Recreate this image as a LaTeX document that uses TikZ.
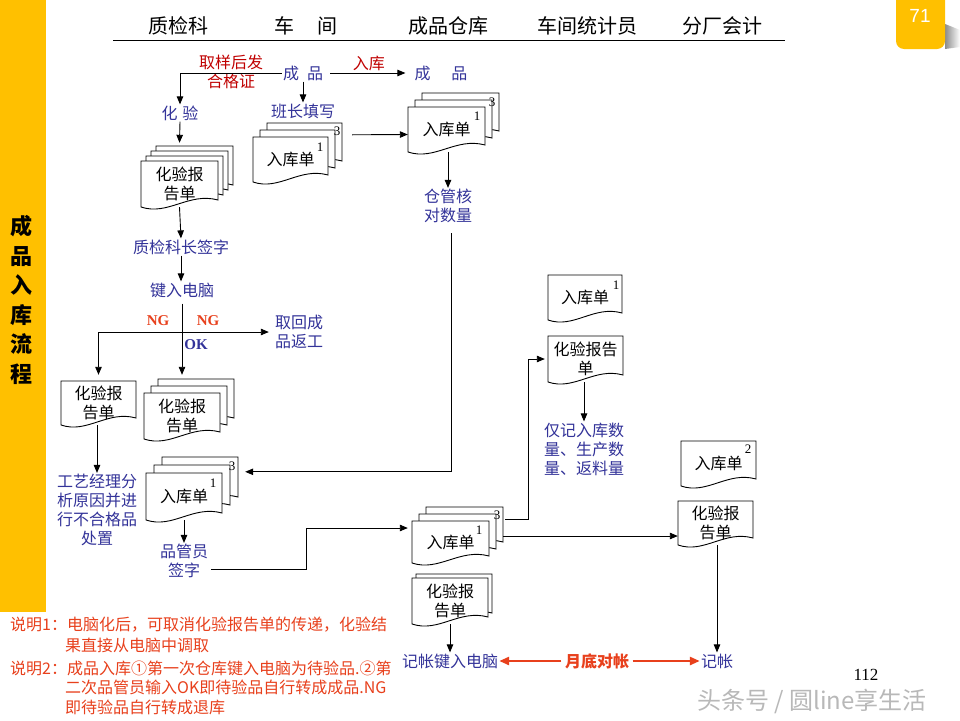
\documentclass[tikz,border=0pt]{standalone}
\usepackage{fontspec}
\usepackage{tikz}
\usetikzlibrary{arrows.meta, calc, positioning}

\newfontfamily\cjk{Noto Sans CJK SC}
\newfontfamily\numfont{Liberation Serif}
\newfontfamily\tabfont{Liberation Sans}

\definecolor{barY}{HTML}{FFC000}
\definecolor{flowblue}{HTML}{333399}
\definecolor{darkred}{HTML}{C00000}
\definecolor{orred}{HTML}{E8401C}

\tikzset{
  sheet/.style={draw, fill=white, line width=0.9pt},
  doctext/.style={font=\cjk\fontsize{16}{19}\selectfont, align=center, inner sep=0pt},
  lbl/.style={font=\cjk\fontsize{16}{19}\selectfont, text=flowblue, align=center, inner sep=1pt},
  redlbl/.style={font=\cjk\fontsize{16}{19}\selectfont, text=darkred, align=center, inner sep=1pt},
  head/.style={font=\cjk\fontsize{20}{24}\selectfont, inner sep=0pt},
  note/.style={font=\cjk\fontsize{16}{19}\selectfont, text=orred, anchor=west, inner sep=0pt},
  num/.style={font=\numfont\fontsize{13}{13}\selectfont, inner sep=0pt},
  flag/.style={font=\numfont\bfseries\fontsize{15}{15}\selectfont, inner sep=0pt},
  arr/.style={-{Triangle[length=8pt,width=6.5pt]}, line width=0.9pt},
  link/.style={line width=0.9pt},
  redarr/.style={-{Triangle[length=10pt,width=8pt]}, line width=2.6pt, draw=orred},
}

% one sheet: x, y (top left), w, h
\newcommand{\sheetat}[4]{%
  \draw[sheet] (#1,#2) -- ({#1+#3},#2) -- ({#1+#3},{#2+#4-7})
    .. controls ({#1+0.62*#3},{#2+#4-15}) and ({#1+0.35*#3},{#2+#4+9}) .. (#1,{#2+#4}) -- cycle;}

% document: name, x, y, w, h, text
\newcommand{\docnode}[6]{%
  \sheetat{#2}{#3}{#4}{#5}
  \node[doctext, minimum width=#4pt, minimum height=#5pt] (#1) at ({#2+0.5*#4},{#3+0.5*#5}) {#6};}

% stack of documents: name, x, y, w, h, sheets behind, offset, text
\newcommand{\docstack}[8]{%
  \foreach \k in {#6,...,1}{\sheetat{#2+\k*#7}{#3-\k*#7}{#4}{#5}}
  \docnode{#1}{#2}{#3}{#4}{#5}{#8}}

\begin{document}
\begin{tikzpicture}[x=1pt, y=-1pt]
\useasboundingbox (0,0) rectangle (960,720);
\fill[white] (0,0) rectangle (960,720);

% side bar and page tab
\fill[barY] (0,0) rectangle (46,612);
\node[font=\cjk\bfseries\fontsize{22}{29.5}\selectfont, align=center] (title) at (21,300) {成\\品\\入\\库\\流\\程};
\shade[left color=black!45, right color=white] (945,24) -- (960,30) -- (960,47) -- (945,49) -- cycle;
\fill[barY] (896,0) [rounded corners=8pt] -- (896,49) -- (945,49) [sharp corners] -- (945,0) -- cycle;
\node[font=\tabfont\fontsize{19}{19}\selectfont, text=white] (page) at (920,16) {71};

% column heads
\draw[line width=1pt] (113,40) -- (785,40);
\node[head] (hq) at (178,26) {质检科};
\node[head] (hw) at (306,26) {车\hspace{1.2em}间};
\node[head] (hs) at (448,26) {成品仓库};
\node[head] (hc) at (587,26) {车间统计员};
\node[head] (ha) at (722,26) {分厂会计};

% workshop and warehouse
\node[lbl] (prod1) at (303,73) {成\hspace{0.5em}品};
\node[lbl] (prod2) at (441,73) {成\hspace{1.3em}品};
\node[redlbl] (sample) at (231,72) {取样后发\\合格证};
\node[lbl] (test) at (180,113) {化\hspace{0.3em}验};
\node[lbl] (monitor) at (303,111) {班长填写};
\docstack{slipA}{253}{137}{75}{45}{2}{7}{入库单}
\node[num] (slipA1) at ($(slipA.north east)+(-8,10)$) {1};
\node[num] (slipA3) at ($(slipA.north east)+(9,-6)$) {3};
\docstack{slipB}{408}{107}{77}{45}{2}{7}{入库单}
\node[num] (slipB1) at ($(slipB.north east)+(-8,9)$) {1};
\node[num] (slipB3) at ($(slipB.north east)+(7,-5)$) {3};
\node[lbl] (count) at (448,206) {仓管核\\对数量};

% inspection
\docstack{rptA}{141}{161}{77}{46}{3}{5}{化验报\\告单}
\node[lbl] (sign) at (181,247) {质检科长签字};
\node[lbl] (keyin) at (182,290) {键入电脑};
\node[flag, text=orred] (ngL) at (158,321) {NG};
\node[flag, text=orred] (ngR) at (208,321) {NG};
\node[flag, text=flowblue] (ok) at (196,345) {OK};
\node[lbl] (redo) at (299,332) {取回成\\品返工};
\docnode{rptB}{61}{381}{75}{44}{化验报\\告单}
\docstack{rptC}{144}{393}{76}{46}{2}{7}{化验报\\告单}
\node[lbl] (deal) at (97,510) {工艺经理分\\析原因并进\\行不合格品\\处置};
\docstack{slipC}{146}{473}{76}{47}{2}{8}{入库单}
\node[num] (slipC1) at ($(slipC.north east)+(-9,10)$) {1};
\node[num] (slipC3) at ($(slipC.north east)+(10,-7)$) {3};
\node[lbl] (qc) at (184,561) {品管员\\签字};

% statistics and accounting
\docstack{slipD}{412}{521}{77}{42}{2}{7}{入库单}
\node[num] (slipD1) at ($(slipD.north east)+(-10,9)$) {1};
\node[num] (slipD3) at ($(slipD.north east)+(8,-6)$) {3};
\docstack{rptD}{412}{578}{76}{46}{1}{4}{化验报\\告单}
\docnode{slipE}{548}{275}{74}{45}{入库单}
\node[num] (slipE1) at ($(slipE.north east)+(-6,10)$) {1};
\docnode{rptE}{548}{336}{75}{46}{化验报告\\单}
\node[lbl] (stat) at (584,449) {仅记入库数\\量、生产数\\量、返料量};
\docnode{slipF}{681}{441}{75}{45}{入库单}
\node[num] (slipF2) at ($(slipF.north east)+(-8,8)$) {2};
\docnode{rptF}{678}{501}{75}{44}{化验报\\告单}
\node[lbl] (entry) at (450,661) {记帐键入电脑};
\node[lbl] (book) at (717,661) {记帐};
\node[font=\cjk\bfseries\fontsize{16}{19}\selectfont, text=orred] (month) at (597,661) {月底对帐};

% connectors
\draw[arr] (prod1.west) -| (test.north);
\draw[arr] (prod1.south) -- (prod1.south |- monitor.north);
\draw[arr, shorten <=6pt, shorten >=8pt] (prod1.east) -- node[redlbl, above=1pt] (inlbl) {入库} (prod2.west);
\draw[arr] ($(slipA.north east)+(24,-2)$) -- ($(slipB.west)+(0,5)$);
\draw[arr] (count.north |- slipB.south) -- (count.north);
\draw[arr, shorten <=9pt] ([xshift=3pt]count.south) |- ($(slipC.north east)+(23,-1)$);
\draw[arr] (test.south) -- ($(rptA.north)+(0,-18)$);
\draw[arr] (rptA.south) -- (sign.north);
\draw[arr] (sign.south) -- (sign.south |- keyin.north);
\draw[arr, shorten <=5pt] (keyin.south) -- ($(rptC.north)+(0,-18)$);
\draw[arr, shorten >=5pt] (keyin.south |- redo.west) -- (redo.west);
\draw[arr] (keyin.south |- redo.west) -| ($(rptB.north)+(0,-6)$);
\draw[arr] (deal.north |- rptB.south) -- (deal.north);
\draw[arr] (slipC.south) -- (qc.north);
\draw[arr] ($(qc.east)+(2,8)$) -- ++(95,0) |- ($(slipD.west)+(-4,-14)$);
\draw[arr] ($(slipD.north east)+(16,-1)$) -- ++(23,0) |- ($(rptE.west)+(-3,0)$);
\draw[arr] (stat.north |- rptE.south) -- (stat.north);
\draw[arr] ($(slipD.east)+(14,-6)$) -- ($(rptF.west)+(0,13)$);
\draw[arr] (book.north |- rptF.south) -- (book.north);
\draw[arr] (rptD.south) -- (entry.north);
\draw[redarr] (month.west) -- (entry.east);
\draw[redarr] (month.east) -- (book.west);

% notes
\node[note] (n1a) at (10,625) {说明1：电脑化后，可取消化验报告单的传递，化验结};
\node[note] (n1b) at (65,645) {果直接从电脑中调取};
\node[note] (n2a) at (10,668) {说明2：成品入库①第一次仓库键入电脑为待验品.②第};
\node[note] (n2b) at (65,687) {二次品管员输入OK即待验品自行转成成品.NG};
\node[note] (n2c) at (65,707) {即待验品自行转成退库};

\node[font=\numfont\fontsize{17}{17}\selectfont] (pnum) at (866,675) {112};
\node[font=\cjk\fontsize{24}{24}\selectfont, text=black!28] (mark) at (812,701) {头条号 / 圆line享生活};
\end{tikzpicture}
\end{document}
